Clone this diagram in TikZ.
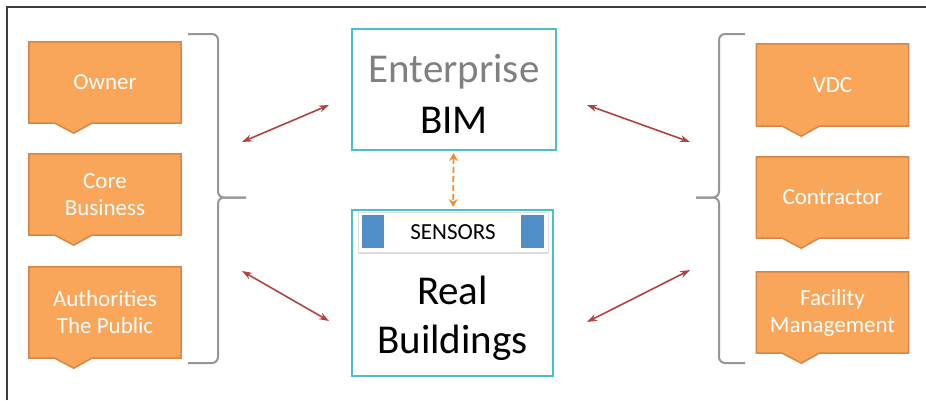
\documentclass[tikz,border=0pt]{standalone}
\usepackage{fontspec}
\setmainfont{Carlito}
\usetikzlibrary{arrows.meta,backgrounds,shadows}
\definecolor{boxorange}{RGB}{249,166,90}
\definecolor{boxedge}{RGB}{214,134,70}
\definecolor{bimcyan}{RGB}{75,190,206}
\definecolor{linkred}{RGB}{176,66,66}
\definecolor{syncorange}{RGB}{245,140,45}
\definecolor{sensorblue}{RGB}{80,142,200}
\definecolor{bracegrey}{RGB}{150,150,150}
\definecolor{framegrey}{RGB}{60,60,60}
\tikzset{%
  party/.style={
    minimum width=152pt, minimum height=81pt, inner sep=0pt,
    text=white, align=center, font=\fontsize{23}{27}\selectfont},
  party shape/.style={fill=boxorange, draw=boxedge, line width=1.5pt},
  centerbox/.style={draw=bimcyan, line width=2pt, fill=white, inner sep=0pt},
  bigtext/.style={font=\fontsize{41}{48}\selectfont, anchor=base, inner sep=0pt},
  sensorbar/.style={
    fill=white, draw=black!12, line width=0.6pt,
    minimum width=190pt, minimum height=40pt, inner sep=0pt,
    font=\fontsize{23}{27}\selectfont,
    drop shadow={shadow xshift=0pt, shadow yshift=-2pt, opacity=0.3}},
  sensor/.style={fill=sensorblue, minimum width=22pt, minimum height=33pt, inner sep=0pt},
  link/.style={
    linkred, line width=1.6pt,
    {Stealth[length=10pt,width=7pt]}-{Stealth[length=10pt,width=7pt]}},
  sync/.style={
    syncorange, line width=1.8pt, dash pattern=on 6pt off 3pt,
    shorten <=2pt, shorten >=2pt,
    {Stealth[length=8pt,width=9pt]}-{Stealth[length=8pt,width=9pt]}},
  brace line/.style={bracegrey, line width=2pt, rounded corners=6pt}
}
\newcommand\partyshape[1]{%
  \draw[party shape] (#1.north west) -- (#1.north east) -- (#1.south east)
    -- ([xshift=63pt]#1.south west) -- ([xshift=45pt,yshift=-10pt]#1.south west)
    -- ([xshift=26pt]#1.south west) -- (#1.south west) -- cycle;}

\begin{document}
\begin{tikzpicture}[x=1pt, y=-1pt]
	\useasboundingbox (0,0) rectangle (926,400);
	\draw[framegrey, line width=1.5pt] (7,400) -- (7,7) -- (926,7);

	\node[party] (owner) at (105,82.5) {Owner};
	\node[party] (core) at (105,194.5) {Core\\Business};
	\node[party, minimum height=91pt] (public) at (105,312.5) {Authorities\\The Public};
	\node[party, minimum height=82pt] (vdc) at (832.5,85) {VDC};
	\node[party] (contractor) at (832.5,197.5) {Contractor};
	\node[party] (fm) at (832.5,312.5) {Facility\\Management};
	\begin{scope}[on background layer]
		\partyshape{owner}
		\partyshape{core}
		\partyshape{public}
		\partyshape{vdc}
		\partyshape{contractor}
		\partyshape{fm}
	\end{scope}

	\draw[brace line] (188,34) -- (218,34) -- (218,197.5) -- (246,197.5);
	\draw[brace line] (246,197.5) -- (218,197.5) -- (218,363) -- (188,363);
	\draw[brace line] (745,34) -- (719,34) -- (719,197.5) -- (696,197.5);
	\draw[brace line] (696,197.5) -- (719,197.5) -- (719,363) -- (745,363);

	\node[centerbox, minimum width=204pt, minimum height=121pt] (bim) at (454,89.5) {};
	\node[bigtext, text=gray] (bimtop) at (454,82) {Enterprise};
	\node[bigtext] (bimname) at (454,133) {BIM};

	\node[centerbox, minimum width=201pt, minimum height=166pt] (real) at (452.5,293) {};
	\node[sensorbar] (sensors) at (453,232) {SENSORS};
	\node[sensor] (sensorl) at (373,231.5) {};
	\node[sensor, minimum width=23pt] (sensorr) at (532.5,231.5) {};
	\node[bigtext] (realtop) at (452.5,304) {Real};
	\node[bigtext] (realname) at (452.5,353) {Buildings};

	\draw[sync] (bim) -- (real);

	\coordinate (leftup) at (242,142);
	\coordinate (bimleft) at (329,105);
	\coordinate (leftdown) at (242,271);
	\coordinate (realleft) at (329,321);
	\coordinate (bimright) at (587,105);
	\coordinate (rightup) at (690,142);
	\coordinate (realright) at (587,322);
	\coordinate (rightdown) at (690,270);
	\draw[link] (leftup) -- (bimleft);
	\draw[link] (leftdown) -- (realleft);
	\draw[link] (bimright) -- (rightup);
	\draw[link] (realright) -- (rightdown);
\end{tikzpicture}
\end{document}
